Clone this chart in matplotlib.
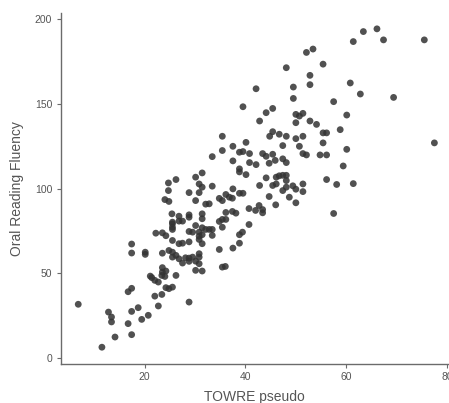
import matplotlib
matplotlib.use('Agg')
import matplotlib.pyplot as plt
import numpy as np

plt.rcParams['font.family'] = ['Liberation Sans', 'DejaVu Sans']

# TOWRE pseudo vs Oral Reading Fluency
towre = [63.4, 66.1, 61.4, 67.4, 75.5, 60.8, 62.8, 69.4, 57.5, 60.1, 58.8, 77.5, 60.1, 59.4,
         58.1, 61.4, 57.5, 52.1, 53.4, 48.1, 55.4, 42.1, 49.5, 52.8, 52.8, 49.5, 39.5, 45.4,
         44.1, 42.8, 50.0, 50.7, 51.4, 50.0, 52.8, 54.1, 45.4, 44.8, 46.7, 48.1, 50.0, 51.4,
         55.4, 56.1, 55.4, 37.5, 40.1, 47.4, 50.7, 38.8, 39.5, 40.8, 43.4, 44.1, 45.4, 51.4,
         52.1, 54.8, 56.1, 37.5, 40.8, 42.1, 44.7, 45.9, 47.4, 48.1, 38.8, 38.8, 40.1, 44.1,
         46.1, 46.7, 47.4, 48.1, 48.1, 42.8, 45.4, 46.1, 51.4, 56.1, 37.5, 48.1, 49.4, 50.0,
         51.4, 47.4, 44.7, 48.7, 38.8, 39.5, 36.1, 36.8, 35.4, 35.4, 33.4, 24.7, 26.2, 24.7,
         30.1, 31.4, 30.8, 28.8, 30.8, 31.4, 33.4, 34.8, 24.0, 30.1, 24.8, 32.1, 32.8, 35.4,
         37.4, 36.1, 37.4, 38.1, 31.4, 31.4, 28.8, 28.8, 26.8, 27.5, 26.8, 25.5, 25.5, 30.1,
         31.4, 32.1, 32.8, 34.8, 35.4, 36.1, 33.4, 30.8, 29.5, 28.8, 22.2, 23.5, 39.4, 46.0,
         50.0, 40.7, 42.0, 42.7, 43.4, 43.4, 40.7, 38.8, 38.8, 37.5, 36.0, 25.4, 25.5, 25.5,
         35.4, 24.2, 25.5, 26.8, 27.5, 28.8, 30.8, 30.8, 31.4, 33.4, 34.8, 35.4, 31.4, 30.8,
         30.8, 23.5, 24.8, 25.5, 26.2, 26.8, 27.5, 28.8, 29.5, 30.1, 30.8, 30.1, 31.4, 26.2,
         28.8, 17.4, 17.4, 20.1, 20.1, 21.4, 22.0, 22.7, 23.4, 24.0, 23.5, 24.2, 24.2, 23.4,
         22.0, 24.8, 25.5, 22.7, 20.7, 19.4, 18.7, 17.4, 17.4, 16.7, 16.7, 17.4, 12.8, 13.4,
         13.4, 14.1, 11.5, 6.8, 25.5, 28.1, 28.8, 23.5, 21.1]
fluency = [192.5, 194.1, 186.6, 187.6, 187.6, 162.2, 155.7, 153.7, 151.2, 143.3, 134.7, 126.9,
           123.1, 113.3, 102.4, 102.9, 85.3, 180.2, 182.2, 171.2, 173.3, 158.8, 159.8, 166.7,
           161.2, 153.1, 148.2, 147.2, 144.7, 139.8, 143.7, 142.7, 144.3, 138.8, 139.8, 137.8,
           133.5, 130.8, 132.0, 130.8, 129.4, 130.8, 132.8, 132.8, 126.9, 124.9, 127.2, 125.3,
           124.9, 121.4, 121.8, 120.6, 120.6, 119.0, 120.2, 120.6, 119.8, 119.8, 119.8, 116.3,
           115.3, 114.1, 114.9, 116.6, 117.5, 115.3, 111.6, 109.8, 108.2, 106.3, 106.7, 107.5,
           107.8, 107.8, 104.7, 101.8, 101.8, 102.7, 102.7, 105.3, 99.8, 100.8, 101.6, 99.6,
           98.2, 98.8, 95.3, 94.9, 97.2, 97.2, 96.5, 94.9, 130.8, 122.4, 118.8, 103.3, 105.3,
           98.8, 106.7, 109.2, 102.7, 97.6, 97.6, 100.8, 101.4, 94.2, 93.5, 92.9, 92.4, 90.8,
           91.0, 92.9, 94.3, 85.9, 86.5, 85.5, 85.1, 82.2, 84.5, 83.1, 83.7, 80.8, 80.8, 80.2,
           75.9, 78.2, 76.9, 75.9, 75.9, 80.6, 81.8, 81.8, 75.9, 74.3, 74.3, 74.7, 73.7, 73.9,
           74.3, 90.4, 91.6, 88.2, 87.1, 90.0, 87.6, 85.7, 78.8, 72.8, 67.8, 64.9, 54.1, 85.1,
           79.2, 77.2, 77.2, 72.2, 69.4, 67.5, 67.8, 68.6, 71.9, 70.0, 72.8, 72.4, 64.1, 53.7,
           67.5, 61.6, 59.6, 61.9, 63.5, 62.5, 60.6, 58.6, 56.1, 59.0, 59.6, 57.2, 55.7, 51.8,
           51.4, 48.8, 33.1, 67.3, 62.0, 62.5, 61.2, 47.5, 45.9, 44.9, 48.8, 48.2, 50.8, 51.4,
           41.6, 37.6, 36.6, 41.0, 41.9, 30.8, 25.3, 22.9, 29.8, 27.6, 13.9, 20.4, 39.2, 41.2,
           27.2, 24.3, 21.4, 12.5, 6.5, 31.8, 59.6, 59.2, 57.1, 53.4, 48.4]

xticks = [20, 40, 60, 80]
yticks = [0, 50, 100, 150, 200]

fig = plt.figure(figsize=(4.49, 4.03), dpi=100)
ax = fig.add_axes([0.135, 0.098, 0.865, 0.87])

ax.scatter(towre, fluency, s=24, color='#333333', alpha=0.85, edgecolors='none')

ax.set_xlim(3.3, 80.4)
ax.set_ylim(-3.1, 203.5)
ax.set_xticks(xticks)
ax.set_yticks(yticks)

for side in ['top', 'right']:
    ax.spines[side].set_visible(False)
for side in ['left', 'bottom']:
    ax.spines[side].set_color('#6b6b6b')
    ax.spines[side].set_linewidth(1.0)
ax.tick_params(colors='#6b6b6b', labelcolor='#555555', length=3, width=0.8, labelsize=7.5, pad=3)

ax.set_xlabel('TOWRE pseudo', fontsize=10, color='#555555', labelpad=6)
ax.set_ylabel('Oral Reading Fluency', fontsize=10, color='#555555', labelpad=8)

fig.savefig('out.png', dpi=100)
